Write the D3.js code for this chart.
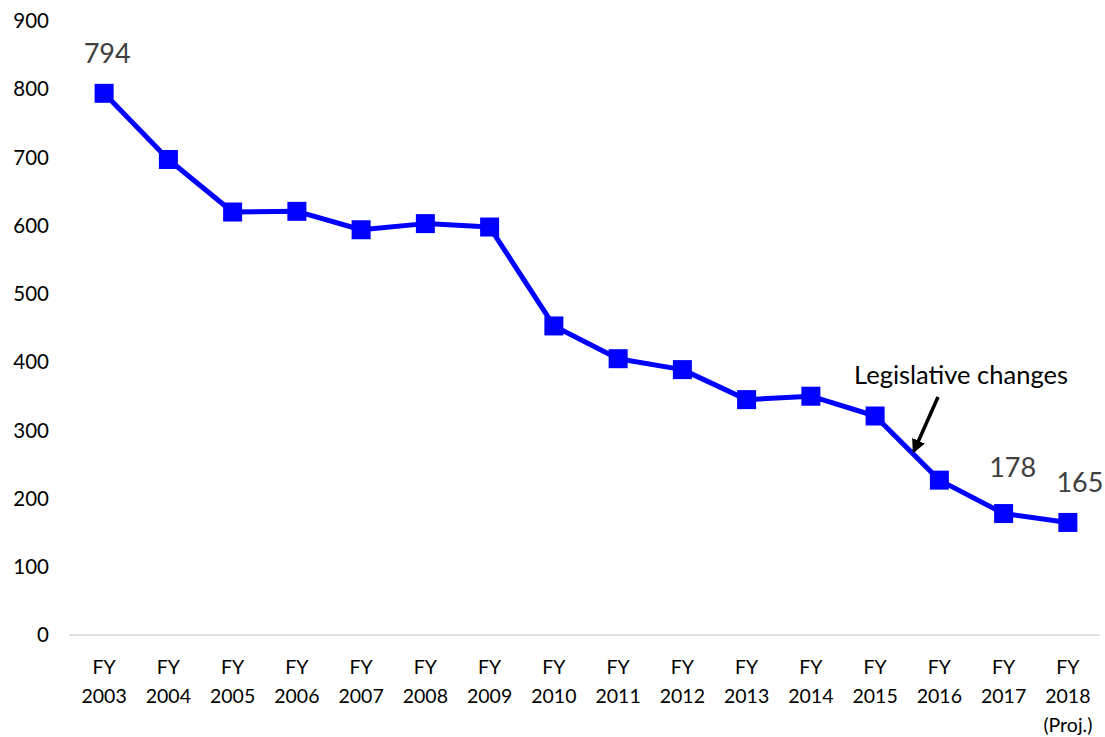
<!DOCTYPE html>
<meta charset="utf-8">
<script src="https://d3js.org/d3.v7.min.js"></script>
<style>
  body {margin: 0; background: #fff;}
  svg text {font-family: Lato, "Open Sans", sans-serif;}
</style>
<div id="chart"></div>
<script>

// data
var years = ["2003", "2004", "2005", "2006", "2007", "2008", "2009", "2010",
             "2011", "2012", "2013", "2014", "2015", "2016", "2017", "2018"];
var values = [794, 697, 620, 621, 594, 603, 598, 453, 405, 389, 345, 350, 321, 227, 178, 165];
var yTicks = [0, 100, 200, 300, 400, 500, 600, 700, 800, 900];
var labelled = ["2003", "2017", "2018"];

var width = 1105, height = 737;

var svg = d3.select("#chart")
  .append("svg")
    .attr("width", width)
    .attr("height", height);

// scales
var x = d3.scaleBand()
  .domain(years)
  .range([72, 1100]);

var y = d3.scaleLinear()
  .domain([0, 900])
  .range([635, 21]);

// y tick labels
svg.append("g")
  .selectAll("text")
  .data(yTicks)
  .enter()
  .append("text")
    .attr("x", 49)
    .attr("y", function(d) { return y(d); })
    .attr("dy", "0.35em")
    .attr("text-anchor", "end")
    .style("font-size", "20.5px")
    .style("fill", "#000")
    .text(function(d) { return d; });

// baseline
svg.append("line")
  .attr("x1", 69)
  .attr("x2", 1100)
  .attr("y1", y(0))
  .attr("y2", y(0))
  .attr("stroke", "#d9d9d9")
  .attr("stroke-width", 1.5);

// x labels
var xl = svg.append("g")
  .selectAll("text")
  .data(years)
  .enter()
  .append("text")
    .attr("text-anchor", "middle")
    .style("font-size", "19.5px")
    .style("fill", "#000")
    .attr("transform", function(d) { return "translate(" + (x(d) + x.bandwidth() / 2) + ",0)"; });

xl.append("tspan").attr("x", 0).attr("y", 674).text("FY");
xl.append("tspan").attr("x", 0).attr("y", 703).text(function(d) { return d; });
xl.filter(function(d) { return d === "2018"; })
  .append("tspan").attr("x", 0).attr("y", 732).text("(Proj.)");

var cx = function(d, i) { return x(years[i]) + x.bandwidth() / 2; };

// line
var line = d3.line()
  .x(function(d, i) { return cx(d, i); })
  .y(function(d) { return y(d); });

svg.append("path")
  .datum(values)
  .attr("d", line)
  .attr("fill", "none")
  .attr("stroke", "#0000ff")
  .attr("stroke-width", 5)
  .attr("stroke-linejoin", "round");

// markers
svg.selectAll("rect.mark")
  .data(values)
  .enter()
  .append("rect")
    .attr("class", "mark")
    .attr("x", function(d, i) { return cx(d, i) - 9.5; })
    .attr("y", function(d) { return y(d) - 9.5; })
    .attr("width", 19)
    .attr("height", 19)
    .attr("fill", "#0000ff");

// data labels
var shift = {"2003": [3, -30], "2017": [9, -37], "2018": [12, -30]};
svg.selectAll("text.val")
  .data(values.map(function(v, i) { return {year: years[i], v: v, i: i}; })
    .filter(function(d) { return labelled.indexOf(d.year) >= 0; }))
  .enter()
  .append("text")
    .attr("class", "val")
    .attr("x", function(d) { return cx(d.v, d.i) + shift[d.year][0]; })
    .attr("y", function(d) { return y(d.v) + shift[d.year][1]; })
    .attr("text-anchor", "middle")
    .style("font-size", "27px")
    .style("fill", "#404040")
    .text(function(d) { return d.v; });

// annotation
svg.append("defs").append("marker")
  .attr("id", "arrow")
  .attr("viewBox", "0 0 10 10")
  .attr("refX", 8)
  .attr("refY", 5)
  .attr("markerWidth", 4)
  .attr("markerHeight", 4)
  .attr("orient", "auto")
  .append("path")
    .attr("d", "M0,0 L10,5 L0,10 z")
    .attr("fill", "#000");

svg.append("text")
  .attr("x", 961)
  .attr("y", 384)
  .attr("text-anchor", "middle")
  .style("font-size", "25.5px")
  .style("fill", "#000")
  .text("Legislative changes");

svg.append("line")
  .attr("x1", 938)
  .attr("y1", 397)
  .attr("x2", 914)
  .attr("y2", 451)
  .attr("stroke", "#000")
  .attr("stroke-width", 3.5)
  .attr("marker-end", "url(#arrow)");

</script>
